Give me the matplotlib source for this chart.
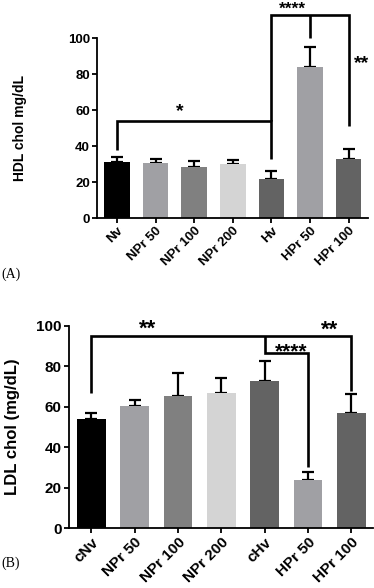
import matplotlib
matplotlib.use("Agg")
import matplotlib.pyplot as plt
import numpy as np

plt.rcParams["font.family"] = ["Liberation Sans", "DejaVu Sans"]
plt.rcParams["font.weight"] = "bold"

# Panel A - HDL
hdl_groups = ["Nv", "NPr 50", "NPr 100", "NPr 200", "Hv", "HPr 50", "HPr 100"]
hdl_mean = [31, 30.5, 28.7, 30.3, 21.5, 84, 33]
hdl_err = [3, 2.5, 2.8, 2.2, 4.5, 11, 5.5]

# Panel B - LDL
ldl_groups = ["cNv", "NPr 50", "NPr 100", "NPr 200", "cHv", "HPr 50", "HPr 100"]
ldl_mean = [54, 60.5, 65.5, 67, 72.5, 23.5, 57]
ldl_err = [3, 3, 11, 7, 10, 4, 9.5]

bar_colors = ["#000000", "#a0a0a4", "#808080", "#d4d4d4", "#636363", "#a0a0a4", "#636363"]

fig = plt.figure(figsize=(3.74, 5.88), dpi=100)


def draw_panel(ax, groups, mean, err, ylabel, fs, lfs):
    x = np.arange(len(groups))
    ax.bar(x, mean, width=0.66, color=bar_colors, zorder=2)
    ax.errorbar(x, mean, yerr=[np.zeros(len(err)), err], fmt="none",
                ecolor="black", elinewidth=1.6, capsize=4.5, capthick=1.6, zorder=1)
    ax.set_xlim(-0.52, 6.5)
    ax.set_ylim(0, 100)
    ax.set_yticks([0, 20, 40, 60, 80, 100])
    ax.set_xticks(x)
    ax.set_xticklabels(groups, rotation=45, ha="right", rotation_mode="anchor",
                       fontsize=fs, fontweight="bold")
    for lab in ax.get_yticklabels():
        lab.set_fontsize(fs)
        lab.set_fontweight("bold")
    ax.spines["top"].set_visible(False)
    ax.spines["right"].set_visible(False)
    ax.spines["left"].set_linewidth(1.3)
    ax.spines["bottom"].set_linewidth(1.3)
    ax.tick_params(width=1.3, length=3.5, pad=1.5)
    ax.set_ylabel(ylabel, fontsize=lfs, fontweight="bold")


def bracket(ax, xs, ys):
    ax.plot(xs, ys, color="black", lw=1.9, clip_on=False, solid_capstyle="butt",
            solid_joinstyle="miter")


# Panel A
axA = fig.add_axes([0.259, 0.629, 0.725, 0.306])
draw_panel(axA, hdl_groups, hdl_mean, hdl_err, "HDL chol mg/dL", 9.5, 10)
axA.yaxis.set_label_coords(-0.258, 0.5)
bracket(axA, [0, 0, 4, 4], [38, 54, 54, 33])
bracket(axA, [4, 4, 6, 6], [54, 113, 113, 51])
bracket(axA, [5, 5], [113, 100])
axA.text(1.63, 56.5, "*", ha="center", va="baseline", fontsize=14, fontweight="bold")
axA.text(4.53, 113.5, "****", ha="center", va="baseline", fontsize=12.5, fontweight="bold")
axA.text(6.33, 83.5, "**", ha="center", va="baseline", fontsize=14, fontweight="bold")
fig.text(0.005, 0.534, "(A)", family="Liberation Serif", fontweight="normal",
         fontsize=10, va="center")

# Panel B
axB = fig.add_axes([0.184, 0.102, 0.813, 0.344])
draw_panel(axB, ldl_groups, ldl_mean, ldl_err, "LDL chol (mg/dL)", 11, 12)
axB.yaxis.set_label_coords(-0.161, 0.5)
bracket(axB, [0, 0, 6, 6], [67, 94.7, 94.7, 67.5])
bracket(axB, [4, 4, 5, 5], [94.7, 86.6, 86.6, 30.4])
axB.text(1.3, 95.5, "**", ha="center", va="baseline", fontsize=16, fontweight="bold")
axB.text(5.49, 95, "**", ha="center", va="baseline", fontsize=16, fontweight="bold")
axB.text(4.62, 84.5, "****", ha="center", va="baseline", fontsize=15, fontweight="bold")
fig.text(0.005, 0.042, "(B)", family="Liberation Serif", fontweight="normal",
         fontsize=10, va="center")

fig.savefig("out.png", dpi=100)
